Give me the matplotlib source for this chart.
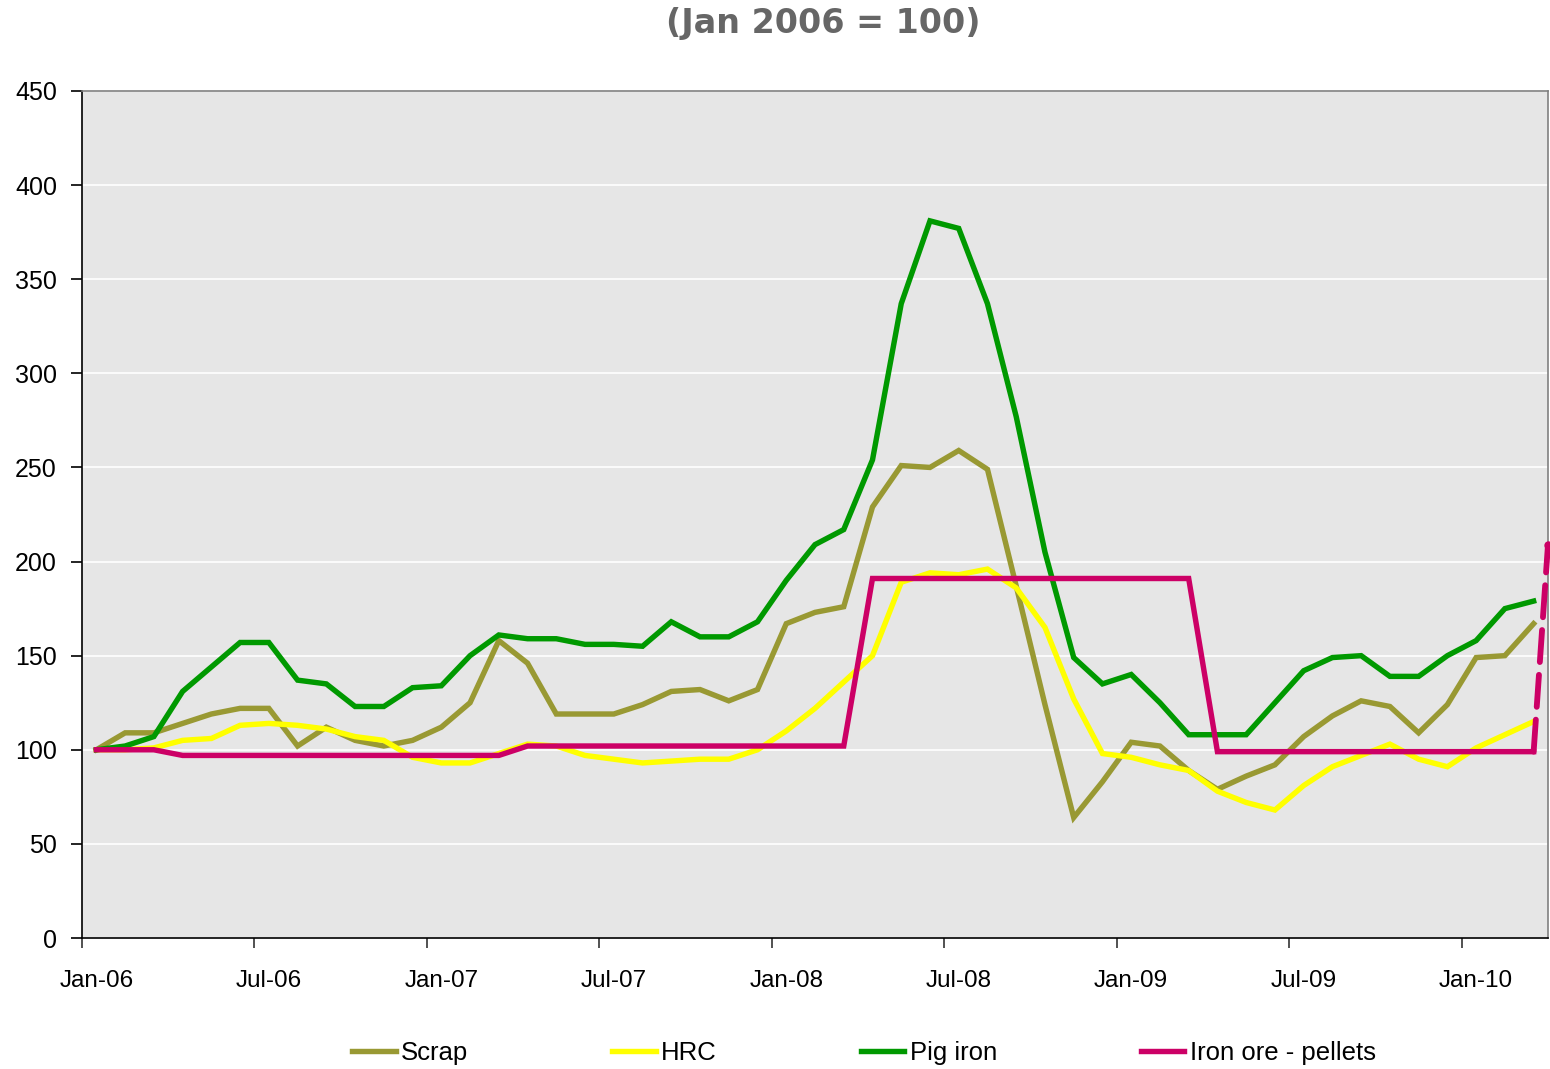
import numpy as np
import matplotlib
matplotlib.use("Agg")
from matplotlib import pyplot as plt

# meses de Jan-06 a Mar-10
meses = ['Jan-06', 'Feb-06', 'Mar-06', 'Apr-06', 'May-06', 'Jun-06', 'Jul-06', 'Aug-06', 'Sep-06', 'Oct-06', 'Nov-06', 'Dec-06',
         'Jan-07', 'Feb-07', 'Mar-07', 'Apr-07', 'May-07', 'Jun-07', 'Jul-07', 'Aug-07', 'Sep-07', 'Oct-07', 'Nov-07', 'Dec-07',
         'Jan-08', 'Feb-08', 'Mar-08', 'Apr-08', 'May-08', 'Jun-08', 'Jul-08', 'Aug-08', 'Sep-08', 'Oct-08', 'Nov-08', 'Dec-08',
         'Jan-09', 'Feb-09', 'Mar-09', 'Apr-09', 'May-09', 'Jun-09', 'Jul-09', 'Aug-09', 'Sep-09', 'Oct-09', 'Nov-09', 'Dec-09',
         'Jan-10', 'Feb-10', 'Mar-10']

scrap = [100, 109, 109, 114, 119, 122, 122, 102, 112, 105, 102, 105,
         112, 125, 158, 146, 119, 119, 119, 124, 131, 132, 126, 132,
         167, 173, 176, 229, 251, 250, 259, 249, 187, 124, 64, 83,
         104, 102, 89, 79, 86, 92, 107, 118, 126, 123, 109, 124,
         149, 150, 167]

hrc = [100, 100, 101, 105, 106, 113, 114, 113, 111, 107, 105, 96,
       93, 93, 98, 103, 102, 97, 95, 93, 94, 95, 95, 100,
       110, 122, 136, 150, 189, 194, 193, 196, 186, 165, 127, 98,
       96, 92, 89, 78, 72, 68, 81, 91, 97, 103, 95, 91,
       101, 108, 115]

pig_iron = [100, 102, 107, 131, 144, 157, 157, 137, 135, 123, 123, 133,
            134, 150, 161, 159, 159, 156, 156, 155, 168, 160, 160, 168,
            190, 209, 217, 254, 337, 381, 377, 337, 277, 205, 149, 135,
            140, 125, 108, 108, 108, 125, 142, 149, 150, 139, 139, 150,
            158, 175, 179]

pellets = [100, 100, 100, 97, 97, 97, 97, 97, 97, 97, 97, 97,
           97, 97, 97, 102, 102, 102, 102, 102, 102, 102, 102, 102,
           102, 102, 102, 191, 191, 191, 191, 191, 191, 191, 191, 191,
           191, 191, 191, 99, 99, 99, 99, 99, 99, 99, 99, 99,
           99, 99, 99]

# subida prevista (tracejada) ate a borda do grafico
pellets_previsto = 209

rotulos_x = ['Jan-06', 'Jul-06', 'Jan-07', 'Jul-07', 'Jan-08', 'Jul-08', 'Jan-09', 'Jul-09', 'Jan-10']
valores_y = [0, 50, 100, 150, 200, 250, 300, 350, 400, 450]

cor_scrap = '#999933'
cor_hrc = '#FFFF00'
cor_pig = '#009900'
cor_pellets = '#CC0066'

plt.rcParams['font.family'] = ['Liberation Sans', 'DejaVu Sans']

fig = plt.figure(figsize=(15.5, 10.69), dpi=100)
ax = fig.add_axes([82/1550, 1 - 938/1069, (1548 - 82)/1550, (938 - 91)/1069])
ax.set_facecolor('#E6E6E6')

x = np.arange(len(meses))
lw = 3.9
ax.plot(x, scrap, color=cor_scrap, lw=lw, label='Scrap', solid_joinstyle='miter', zorder=3)
ax.plot(x, hrc, color=cor_hrc, lw=lw, label='HRC', solid_joinstyle='miter', zorder=3)
ax.plot(x, pig_iron, color=cor_pig, lw=lw, label='Pig iron', solid_joinstyle='miter', zorder=3)
ax.plot(x, pellets, color=cor_pellets, lw=lw, label='Iron ore - pellets', solid_joinstyle='miter', zorder=3)

# extensao tracejada
borda = len(meses) - 0.5
ax.plot([x[-1], borda], [pellets[-1], pellets_previsto], color=cor_pellets, lw=4.2,
        linestyle=(0, (5.5, 2.2)), dash_capstyle='round', clip_on=False, zorder=4)
ax.plot([borda], [pellets_previsto], 'o', color=cor_pellets, ms=5, clip_on=False, zorder=4)

ax.set_xlim(-0.5, borda)
ax.set_ylim(0, 450)
ax.set_yticks(valores_y)
ax.set_yticklabels([str(v) for v in valores_y], fontsize=18)
ax.yaxis.grid(True, color='white', lw=1.2)
ax.set_axisbelow(True)

# marcas entre categorias, rotulos no centro
ax.set_xticks(np.arange(-0.5, len(meses), 6))
ax.set_xticklabels([])
ax.set_xticks(np.arange(0, len(meses), 6), minor=True)
ax.set_xticklabels(rotulos_x, minor=True, fontsize=17.5)
ax.tick_params(axis='x', which='major', direction='out', length=7, width=1.2, color='#333333')
ax.tick_params(axis='x', which='minor', length=0, pad=23)
ax.tick_params(axis='y', direction='out', length=8, width=1.2, pad=10)

for lado in ['top', 'right']:
    ax.spines[lado].set_color('#808080')
    ax.spines[lado].set_linewidth(1.2)
for lado in ['left', 'bottom']:
    ax.spines[lado].set_color('black')
    ax.spines[lado].set_linewidth(1.2)

fig.text(823/1550, 1 - 23/1069, '(Jan 2006 = 100)', ha='center', va='center',
         fontsize=24, fontweight='bold', color='#666666', family=['DejaVu Sans'])

fig.legend(loc='center', bbox_to_anchor=(864/1550, 1 - 1053/1069), ncol=4, frameon=False,
           fontsize=18.5, handlelength=1.7, handletextpad=0.2, columnspacing=5.6)

fig.savefig('out.png', dpi=100)
